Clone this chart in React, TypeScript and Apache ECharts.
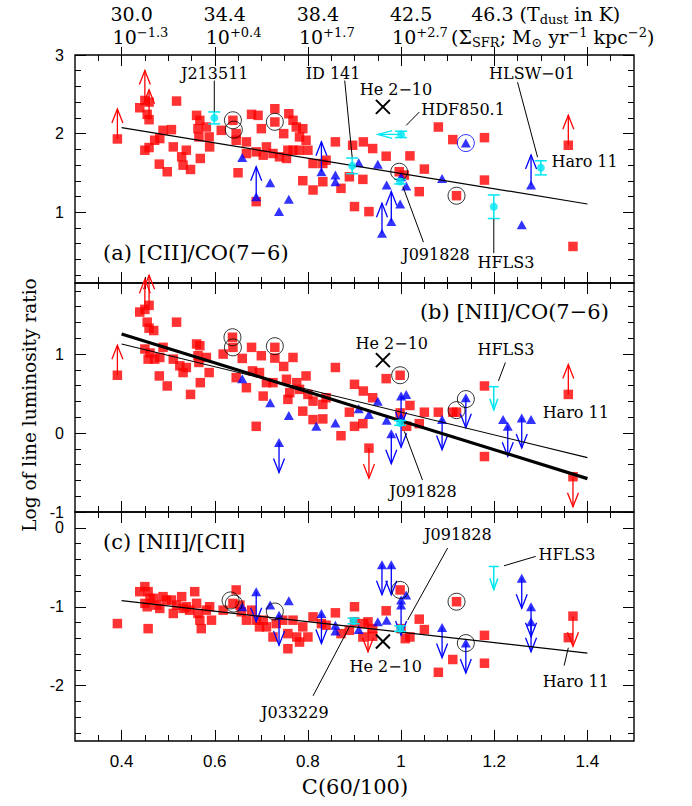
import React, { useEffect, useRef } from 'react';
import * as echarts from 'echarts';

type Pt = [number, number];
type Err = [number, number, number];
type Seg = [number, number, number, number];
type Lab = { text: string; x: number; y: number; align?: string; big?: boolean };

// ---------- axes / tick values ----------
const X_MIN = 0.3;
const X_MAX = 1.5;
const xMajorTicks = [0.4, 0.6, 0.8, 1.0, 1.2, 1.4];
const xMinorTicks = [0.35, 0.45, 0.5, 0.55, 0.65, 0.7, 0.75, 0.85, 0.9, 0.95, 1.05, 1.1, 1.15, 1.25, 1.3, 1.35, 1.45];

const topTicks = [0.4, 0.6, 0.8, 1.0, 1.2];
const tdustLabels = ['30.0', '34.4', '38.4', '42.5', '46.3'];
const sfrExponents = ['−1.3', '+0.4', '+1.7', '+2.7'];

const yMajorA = [1, 2, 3];
const yMinorA = [0.2, 0.4, 0.6, 0.8, 1.2, 1.4, 1.6, 1.8, 2.2, 2.4, 2.6, 2.8];
const yMajorB = [-1, 0, 1];
const yMinorB = [-0.8, -0.6, -0.4, -0.2, 0.2, 0.4, 0.6, 0.8, 1.2, 1.4, 1.6, 1.8];
const yMajorC = [-2, -1, 0];
const yMinorC = [-2.6, -2.4, -2.2, -1.8, -1.6, -1.4, -1.2, -0.8, -0.6, -0.4, -0.2];

// ---------- panel (a) [CII]/CO(7-6) ----------
const redA: Pt[] = [
  [0.391, 1.932], [0.439, 2.329], [0.45, 2.422], [0.459, 2.401], [0.455, 2.245], [0.459, 2.177], [0.45, 1.789],
  [0.459, 1.823], [0.471, 1.916], [0.482, 1.937], [0.489, 2.042], [0.507, 2.051], [0.511, 1.831], [0.518, 2.414],
  [0.481, 1.612], [0.498, 1.515], [0.529, 1.705], [0.532, 1.599], [0.539, 1.789], [0.548, 1.544], [0.561, 2.232],
  [0.568, 2.169], [0.564, 2.063], [0.566, 1.958], [0.582, 2.084], [0.588, 1.958], [0.589, 1.831], [0.569, 1.684],
  [0.614, 2.042], [0.639, 2.169], [0.646, 2.0], [0.646, 1.916], [0.668, 1.895], [0.65, 1.502], [0.668, 1.747],
  [0.679, 2.245], [0.693, 2.232], [0.7, 2.063], [0.689, 1.768], [0.704, 1.726], [0.711, 1.831], [0.689, 1.135],
  [0.729, 2.316], [0.729, 2.148], [0.725, 1.747], [0.739, 1.705], [0.748, 2.0], [0.754, 1.684], [0.759, 2.253],
  [0.768, 2.169], [0.775, 2.084], [0.782, 1.958], [0.789, 2.063], [0.757, 1.789], [0.768, 1.789], [0.781, 1.789],
  [0.796, 1.916], [0.8, 1.789], [0.789, 1.401], [0.811, 1.62], [0.811, 1.283], [0.832, 1.62], [0.839, 1.662],
  [0.832, 1.388], [0.859, 1.895], [0.871, 1.304], [0.889, 1.451], [0.9, 1.072], [0.896, 1.852], [0.919, 1.895],
  [0.918, 1.418], [0.931, 1.008], [0.939, 1.81], [0.968, 1.713], [0.996, 1.515], [1.007, 1.473], [1.019, 1.717],
  [1.05, 1.549], [1.039, 1.262], [1.08, 2.084], [1.111, 1.924], [1.179, 1.949], [1.179, 1.409], [1.119, 1.211],
  [1.359, 1.852], [1.369, 0.565],
];
const blueA: Pt[] = [
  [0.659, 1.696], [0.689, 1.198], [0.719, 1.376], [0.738, 1.008], [0.759, 1.165], [0.829, 1.515], [0.859, 1.473],
  [0.859, 1.388], [0.909, 1.629], [0.95, 1.612], [0.969, 1.346], [1.0, 1.451], [1.011, 1.333], [0.998, 1.105],
  [0.979, 0.882], [0.959, 0.734], [1.088, 1.43], [1.139, 1.882], [1.279, 1.346], [1.259, 0.84],
];
const redUpA: Pt[] = [[0.391, 1.932], [0.45, 2.422], [0.459, 2.177], [1.359, 1.852]];
const blueUpA: Pt[] = [[0.689, 1.198], [0.829, 1.515], [0.979, 0.882], [0.959, 0.734], [1.279, 1.346]];
const cyanErrA: Err[] = [[0.599, 2.2, 0.076], [0.895, 1.59, 0.1], [1.0, 1.99, 0.04], [0.998, 1.39, 0.03], [1.199, 1.07, 0.15], [1.3, 1.565, 0.09]];
const cyanLeftA: Pt[] = [[1.0, 1.99]];
const ringsA: Pt[] = [[0.639, 2.17], [0.641, 2.05], [0.729, 2.15], [0.996, 1.515], [1.119, 1.21]];
const blueRingsA: Pt[] = [[1.139, 1.88]];
const crossA: Pt[] = [[0.961, 2.34]];
const fitA: Pt[] = [[0.4, 2.076], [1.4, 1.105]];
const leadersA: Seg[] = [
  [0.599, 2.675, 0.599, 2.28], [0.879, 2.675, 0.895, 1.7], [1.039, 2.274, 1.011, 2.105],
  [1.25, 2.654, 1.293, 1.7], [1.004, 1.325, 1.048, 0.62], [1.199, 0.916, 1.199, 0.48],
];
const labelsA: Lab[] = [
  { text: 'J213511', x: 0.6, y: 2.77 }, { text: 'ID 141', x: 0.854, y: 2.77 }, { text: 'He 2−10', x: 0.989, y: 2.567 },
  { text: 'HDF850.1', x: 1.133, y: 2.313 }, { text: 'HLSW−01', x: 1.281, y: 2.77 }, { text: 'Haro 11', x: 1.394, y: 1.651 },
  { text: 'J091828', x: 1.075, y: 0.468 }, { text: 'HFLS3', x: 1.225, y: 0.366 },
  { text: '(a) [CII]/CO(7−6)', x: 0.36, y: 0.48, align: 'left', big: true },
];

// ---------- panel (b) [NII]/CO(7-6) ----------
const redB: Pt[] = [
  [0.391, 0.732], [0.439, 1.532], [0.45, 1.566], [0.459, 1.617], [0.455, 1.404], [0.459, 1.328], [0.469, 1.298],
  [0.518, 1.404], [0.45, 1.064], [0.461, 1.013], [0.471, 0.936], [0.482, 0.957], [0.489, 1.085], [0.457, 0.936],
  [0.511, 0.936], [0.525, 0.851], [0.532, 0.766], [0.539, 0.83], [0.481, 0.723], [0.498, 0.596], [0.548, 0.489],
  [0.561, 1.128], [0.568, 1.106], [0.564, 0.979], [0.566, 0.894], [0.582, 0.957], [0.588, 0.766], [0.569, 0.638],
  [0.618, 1.0], [0.638, 1.213], [0.639, 1.085], [0.659, 0.945], [0.646, 0.702], [0.668, 0.574], [0.681, 0.787],
  [0.689, 0.085], [0.696, 0.766], [0.7, 0.979], [0.704, 0.468], [0.711, 0.638], [0.679, 1.085], [0.729, 1.085],
  [0.729, 0.949], [0.725, 0.638], [0.748, 0.843], [0.754, 0.681], [0.761, 0.511], [0.757, 0.426], [0.768, 0.957],
  [0.776, 0.638], [0.782, 0.553], [0.789, 0.277], [0.796, 0.723], [0.8, 0.489], [0.811, 0.404], [0.811, 0.17],
  [0.832, 0.362], [0.832, 0.179], [0.839, 0.447], [0.859, 0.83], [0.871, -0.034], [0.889, 0.264], [0.9, 0.617],
  [0.9, 0.085], [0.919, 0.532], [0.918, 0.119], [0.931, -0.191], [0.939, 0.447], [0.968, 0.689], [0.998, 0.732],
  [0.998, 0.255], [1.012, 0.085], [1.019, 0.349], [1.039, 0.119], [1.05, 0.264], [1.08, 0.264], [1.111, 0.264],
  [1.119, 0.264], [1.179, 0.596], [1.179, -0.298], [1.359, 0.489], [1.369, -0.553],
];
const blueB: Pt[] = [
  [0.659, 0.689], [0.719, 0.383], [0.738, -0.119], [0.759, 0.221], [0.818, 0.085], [0.859, 0.128], [0.909, 0.306],
  [0.931, 0.234], [0.95, 0.404], [0.969, 0.162], [0.979, -0.009], [1.0, 0.468], [1.011, 0.489], [1.0, 0.2],
  [1.088, 0.17], [1.139, 0.447], [1.219, 0.17], [1.229, 0.085], [1.259, 0.191], [1.279, 0.17],
];
const redUpB: Pt[] = [[0.391, 0.732], [0.45, 1.566], [0.459, 1.617], [1.359, 0.489]];
const redDownB: Pt[] = [[0.931, -0.191], [1.369, -0.553]];
const blueDownB: Pt[] = [[0.738, -0.119], [0.979, -0.009], [1.0, 0.468], [1.0, 0.2], [1.088, 0.17], [1.139, 0.447], [1.229, 0.085], [1.259, 0.191]];
const cyanErrB: Err[] = [[0.998, 0.128, 0.03]];
const cyanUlB: Pt[] = [[1.199, 0.587]];
const ringsB: Pt[] = [[0.638, 1.213], [0.639, 1.085], [0.729, 1.1], [0.998, 0.732], [1.119, 0.29], [1.139, 0.43]];
const crossB: Pt[] = [[0.961, 0.923]];
const fitThickB: Pt[] = [[0.4, 1.255], [1.4, -0.577]];
const fitThinB: Pt[] = [[0.4, 1.128], [1.4, -0.311]];
const leadersB: Seg[] = [[1.224, 0.894, 1.209, 0.66], [1.007, 0.021, 1.046, -0.596]];
const labelsB: Lab[] = [
  { text: 'He 2−10', x: 0.98, y: 1.14 }, { text: 'HFLS3', x: 1.225, y: 1.052 }, { text: 'Haro 11', x: 1.375, y: 0.254 },
  { text: 'J091828', x: 1.047, y: -0.746 },
  { text: '(b) [NII]/CO(7−6)', x: 1.446, y: 1.533, align: 'right', big: true },
];

// ---------- panel (c) [NII]/[CII] ----------
const redC: Pt[] = [
  [0.391, -1.213], [0.439, -0.809], [0.45, -0.745], [0.457, -0.809], [0.461, -0.894], [0.45, -0.957], [0.455, -1.0],
  [0.457, -1.277], [0.469, -0.894], [0.475, -0.979], [0.482, -1.021], [0.489, -0.872], [0.496, -0.915], [0.507, -0.915],
  [0.511, -1.085], [0.518, -0.979], [0.529, -0.872], [0.532, -1.021], [0.539, -1.0], [0.546, -1.043], [0.557, -0.809],
  [0.561, -0.957], [0.564, -1.085], [0.568, -1.17], [0.571, -1.277], [0.582, -1.043], [0.589, -1.0], [0.593, -1.17],
  [0.618, -1.043], [0.639, -0.957], [0.646, -0.787], [0.654, -0.979], [0.657, -1.064], [0.668, -1.17], [0.679, -1.043],
  [0.689, -1.17], [0.696, -1.255], [0.704, -1.17], [0.711, -1.255], [0.725, -1.383], [0.732, -1.213], [0.746, -1.17],
  [0.757, -1.34], [0.757, -1.532], [0.768, -1.17], [0.776, -1.383], [0.782, -1.447], [0.789, -1.255], [0.8, -1.383],
  [0.811, -1.128], [0.829, -1.213], [0.839, -1.234], [0.859, -1.077], [0.871, -1.34], [0.889, -1.298], [0.9, -1.0],
  [0.9, -1.191], [0.919, -1.213], [0.918, -1.383], [0.929, -1.191], [0.939, -1.277], [0.939, -1.374], [0.968, -1.051],
  [0.998, -0.787], [1.0, -1.277], [1.009, -1.404], [1.019, -1.383], [1.039, -1.157], [1.05, -1.289], [1.08, -1.83],
  [1.111, -1.668], [1.119, -0.936], [1.179, -1.362], [1.179, -1.715], [1.359, -1.391], [1.369, -1.119],
];
const blueC: Pt[] = [
  [0.659, -1.0], [0.689, -0.809], [0.719, -0.979], [0.738, -1.106], [0.759, -0.923], [0.829, -1.085], [0.859, -1.234],
  [0.859, -1.306], [0.909, -1.289], [0.95, -1.191], [0.969, -1.17], [0.959, -0.468], [0.979, -0.468], [1.0, -0.979],
  [1.011, -0.851], [1.0, -0.915], [1.088, -1.264], [1.139, -1.46], [1.259, -0.638], [1.279, -1.0], [1.279, -1.191],
];
const redDownC: Pt[] = [[0.929, -1.191], [1.369, -1.119]];
const blueDownC: Pt[] = [
  [0.689, -0.809], [0.738, -1.106], [0.829, -1.085], [0.959, -0.468], [0.979, -0.468], [1.0, -0.979], [1.088, -1.264],
  [1.139, -1.46], [1.259, -0.638], [1.279, -1.0], [1.279, -1.191],
];
const cyanErrC: Err[] = [[0.898, -1.18, 0.035], [0.998, -1.277, 0.035]];
const cyanUlC: Pt[] = [[1.199, -0.49]];
const ringsC: Pt[] = [[0.634, -0.92], [0.641, -0.96], [0.729, -1.06], [0.998, -0.787], [1.119, -0.936], [1.139, -1.46]];
const crossC: Pt[] = [[0.961, -1.44]];
const fitC: Pt[] = [[0.4, -0.923], [1.4, -1.587]];
const leadersC: Seg[] = [[1.1, -0.255, 1.014, -1.17], [1.289, -0.362, 1.221, -0.481], [1.35, -1.745, 1.359, -1.519], [0.811, -2.128, 0.889, -1.255]];
const labelsC: Lab[] = [
  { text: 'J091828', x: 1.122, y: -0.091 }, { text: 'HFLS3', x: 1.356, y: -0.344 }, { text: 'He 2−10', x: 0.967, y: -1.762 },
  { text: 'Haro 11', x: 1.375, y: -1.952 }, { text: 'J033229', x: 0.772, y: -2.344 },
  { text: '(c) [NII]/[CII]', x: 0.36, y: -0.18, align: 'left', big: true },
];

const RED = '#ff0000';
const BLUE = '#0000ff';
const CYAN = '#00e6f2';
const SERIF = '"DejaVu Serif", serif';
const SANS = '"Liberation Sans", Arial, sans-serif';

const panels = [
  {
    top: 55, height: 228, yMin: 0.1, yMax: 3.0, yMajor: yMajorA, yMinor: yMinorA,
    red: redA, blue: blueA, redUp: redUpA, redDown: [] as Pt[], blueUp: blueUpA, blueDown: [] as Pt[],
    cyanErr: cyanErrA, cyanLeft: cyanLeftA, cyanUl: [] as Pt[], rings: ringsA, blueRings: blueRingsA, cross: crossA,
    fits: [{ data: fitA, width: 1.2 }], leaders: leadersA, labels: labelsA,
  },
  {
    top: 283, height: 229, yMin: -1.0, yMax: 1.9, yMajor: yMajorB, yMinor: yMinorB,
    red: redB, blue: blueB, redUp: redUpB, redDown: redDownB, blueUp: [] as Pt[], blueDown: blueDownB,
    cyanErr: cyanErrB, cyanLeft: [] as Pt[], cyanUl: cyanUlB, rings: ringsB, blueRings: [] as Pt[], cross: crossB,
    fits: [{ data: fitThickB, width: 3.2 }, { data: fitThinB, width: 1.1 }], leaders: leadersB, labels: labelsB,
  },
  {
    top: 512, height: 229, yMin: -2.7, yMax: 0.2, yMajor: yMajorC, yMinor: yMinorC,
    red: redC, blue: blueC, redUp: [] as Pt[], redDown: redDownC, blueUp: [] as Pt[], blueDown: blueDownC,
    cyanErr: cyanErrC, cyanLeft: [] as Pt[], cyanUl: cyanUlC, rings: ringsC, blueRings: [] as Pt[], cross: crossC,
    fits: [{ data: fitC, width: 1.2 }], leaders: leadersC, labels: labelsC,
  },
];

function xAxisDef(g: number, position: string, ticks: number[], len: number, inside: boolean, labels: number[] | null) {
  return {
    type: 'value', gridIndex: g, position, min: X_MIN, max: X_MAX,
    axisLine: { show: false, onZero: false }, splitLine: { show: false },
    axisTick: { show: true, inside, length: len, customValues: ticks, lineStyle: { color: '#000', width: 1 } },
    axisLabel: labels
      ? { show: true, customValues: labels, margin: 12, color: '#000', fontFamily: SANS, fontSize: 17 }
      : { show: false },
  };
}

function yAxisDef(g: number, p: any, position: string, ticks: number[], len: number, labels: number[] | null) {
  return {
    type: 'value', gridIndex: g, position, min: p.yMin, max: p.yMax,
    axisLine: { show: false, onZero: false }, splitLine: { show: false },
    axisTick: { show: true, inside: true, length: len, customValues: ticks, lineStyle: { color: '#000', width: 1 } },
    axisLabel: labels
      ? { show: true, customValues: labels, margin: 11, color: '#000', fontFamily: SANS, fontSize: 16 }
      : { show: false },
  };
}

function arrowSeries(g: number, data: Pt[], dir: string, color: string, len: number) {
  return {
    type: 'custom', xAxisIndex: 4 * g, yAxisIndex: 4 * g, data, clip: false, silent: true, z: 4,
    renderItem: (_p: any, api: any) => {
      const c = api.coord([api.value(0), api.value(1)]);
      const x0 = c[0], y0 = c[1];
      const hw = 5.5, hl = 14;
      let x1 = x0, y1 = y0;
      let pts: number[][];
      if (dir === 'up') { y1 = y0 - len; pts = [[x1 - hw, y1 + hl], [x1, y1], [x1 + hw, y1 + hl]]; }
      else if (dir === 'down') { y1 = y0 + len; pts = [[x1 - hw, y1 - hl], [x1, y1], [x1 + hw, y1 - hl]]; }
      else { x1 = x0 - len; pts = [[x1 + hl, y1 - hw * 0.7], [x1, y1], [x1 + hl, y1 + hw * 0.7]]; }
      return {
        type: 'group', children: [
          { type: 'line', shape: { x1: x0, y1: y0, x2: x1, y2: y1 }, style: { stroke: color, lineWidth: 1.3 } },
          { type: 'polyline', shape: { points: pts }, style: { stroke: color, fill: 'none', lineWidth: 1.3 } },
        ],
      };
    },
  };
}

function errSeries(g: number, data: Err[]) {
  return {
    type: 'custom', xAxisIndex: 4 * g, yAxisIndex: 4 * g, data, clip: false, silent: true, z: 6,
    renderItem: (_p: any, api: any) => {
      const x = api.value(0), y = api.value(1), e = api.value(2);
      const lo = api.coord([x, y - e]);
      const hi = api.coord([x, y + e]);
      const st = { stroke: CYAN, lineWidth: 1.5 };
      return {
        type: 'group', children: [
          { type: 'line', shape: { x1: lo[0], y1: lo[1], x2: hi[0], y2: hi[1] }, style: st },
          { type: 'line', shape: { x1: lo[0] - 6, y1: lo[1], x2: lo[0] + 6, y2: lo[1] }, style: st },
          { type: 'line', shape: { x1: hi[0] - 6, y1: hi[1], x2: hi[0] + 6, y2: hi[1] }, style: st },
        ],
      };
    },
  };
}

function ulSeries(g: number, data: Pt[]) {
  return {
    type: 'custom', xAxisIndex: 4 * g, yAxisIndex: 4 * g, data, clip: false, silent: true, z: 6,
    renderItem: (_p: any, api: any) => {
      const c = api.coord([api.value(0), api.value(1)]);
      const st = { stroke: CYAN, lineWidth: 1.5, fill: 'none' };
      const tip = c[1] + 23;
      return {
        type: 'group', children: [
          { type: 'line', shape: { x1: c[0] - 5, y1: c[1], x2: c[0] + 5, y2: c[1] }, style: st },
          { type: 'line', shape: { x1: c[0], y1: c[1], x2: c[0], y2: tip }, style: st },
          { type: 'polyline', shape: { points: [[c[0] - 4, tip - 11], [c[0], tip], [c[0] + 4, tip - 11]] }, style: st },
        ],
      };
    },
  };
}

function crossSeries(g: number, data: Pt[]) {
  return {
    type: 'custom', xAxisIndex: 4 * g, yAxisIndex: 4 * g, data, clip: false, silent: true, z: 6,
    renderItem: (_p: any, api: any) => {
      const c = api.coord([api.value(0), api.value(1)]);
      const s = 7;
      const st = { stroke: '#000', lineWidth: 2 };
      return {
        type: 'group', children: [
          { type: 'line', shape: { x1: c[0] - s, y1: c[1] - s, x2: c[0] + s, y2: c[1] + s }, style: st },
          { type: 'line', shape: { x1: c[0] - s, y1: c[1] + s, x2: c[0] + s, y2: c[1] - s }, style: st },
        ],
      };
    },
  };
}

function leaderSeries(g: number, data: Seg[]) {
  return {
    type: 'custom', xAxisIndex: 4 * g, yAxisIndex: 4 * g, data, clip: false, silent: true, z: 8,
    renderItem: (_p: any, api: any) => {
      const a = api.coord([api.value(0), api.value(1)]);
      const b = api.coord([api.value(2), api.value(3)]);
      return { type: 'line', shape: { x1: a[0], y1: a[1], x2: b[0], y2: b[1] }, style: { stroke: '#000', lineWidth: 1 } };
    },
  };
}

function labelSeries(g: number, labels: Lab[]) {
  return {
    type: 'custom', xAxisIndex: 4 * g, yAxisIndex: 4 * g, data: labels.map((l) => [l.x, l.y]), clip: false, silent: true, z: 10,
    renderItem: (params: any, api: any) => {
      const l = labels[params.dataIndex];
      const c = api.coord([api.value(0), api.value(1)]);
      return {
        type: 'text', x: c[0], y: c[1],
        style: {
          text: l.text, fill: '#000', fontFamily: SERIF, fontSize: l.big ? 21 : 16,
          align: l.align || 'center', verticalAlign: 'middle',
        },
      };
    },
  };
}

function buildOption() {
  const grid = panels.map((p) => ({
    left: 75, width: 559, top: p.top, height: p.height, show: true,
    borderColor: '#000', borderWidth: 1.4, backgroundColor: 'transparent', containLabel: false,
  }));
  const xAxis: any[] = [];
  const yAxis: any[] = [];
  panels.forEach((p, g) => {
    xAxis.push(xAxisDef(g, 'bottom', xMajorTicks, 11, true, g === 2 ? xMajorTicks : null));
    xAxis.push(xAxisDef(g, 'bottom', xMinorTicks, 6, true, null));
    xAxis.push(xAxisDef(g, 'top', xMajorTicks, 11, true, null));
    xAxis.push(xAxisDef(g, 'top', xMinorTicks, 6, true, null));
    yAxis.push(yAxisDef(g, p, 'left', p.yMajor, 11, p.yMajor));
    yAxis.push(yAxisDef(g, p, 'left', p.yMinor, 6, null));
    yAxis.push(yAxisDef(g, p, 'right', p.yMajor, 11, null));
    yAxis.push(yAxisDef(g, p, 'right', p.yMinor, 6, null));
  });
  xAxis.push(xAxisDef(0, 'top', xMajorTicks, 8, false, null));

  const series: any[] = [];
  panels.forEach((p, g) => {
    const ax = { xAxisIndex: 4 * g, yAxisIndex: 4 * g };
    series.push({ type: 'scatter', ...ax, data: p.red, symbol: 'rect', symbolSize: 9.5, itemStyle: { color: RED }, z: 3, silent: true });
    series.push({ type: 'scatter', ...ax, data: p.blue, symbol: 'triangle', symbolSize: [10, 9], itemStyle: { color: BLUE }, z: 3, silent: true });
    if (p.redUp.length) series.push(arrowSeries(g, p.redUp, 'up', RED, 30));
    if (p.redDown.length) series.push(arrowSeries(g, p.redDown, 'down', RED, 30));
    if (p.blueUp.length) series.push(arrowSeries(g, p.blueUp, 'up', BLUE, 30));
    if (p.blueDown.length) series.push(arrowSeries(g, p.blueDown, 'down', BLUE, 30));
    if (p.cyanLeft.length) series.push(arrowSeries(g, p.cyanLeft, 'left', CYAN, 23));
    p.fits.forEach((f) => series.push({
      type: 'line', ...ax, data: f.data, symbol: 'none', showSymbol: false,
      lineStyle: { color: '#000', width: f.width }, z: 5, silent: true,
    }));
    series.push({
      type: 'scatter', ...ax, data: p.rings, symbol: 'circle', symbolSize: 17,
      itemStyle: { color: 'rgba(0,0,0,0)', borderColor: '#000', borderWidth: 1 }, z: 6, silent: true,
    });
    if (p.blueRings.length) series.push({
      type: 'scatter', ...ax, data: p.blueRings, symbol: 'circle', symbolSize: 17,
      itemStyle: { color: 'rgba(0,0,0,0)', borderColor: BLUE, borderWidth: 1 }, z: 6, silent: true,
    });
    series.push(errSeries(g, p.cyanErr));
    series.push({
      type: 'scatter', ...ax, data: p.cyanErr.map((e) => [e[0], e[1]]), symbol: 'circle', symbolSize: 8,
      itemStyle: { color: CYAN }, z: 7, silent: true,
    });
    if (p.cyanUl.length) series.push(ulSeries(g, p.cyanUl));
    series.push(crossSeries(g, p.cross));
    series.push(leaderSeries(g, p.leaders));
    series.push(labelSeries(g, p.labels));
  });

  return { animation: false, grid, xAxis, yAxis, series };
}

function buildGraphics(px: (v: number) => number) {
  const base = { fill: '#000', fontFamily: SERIF, fontSize: 19, lineHeight: 23, verticalAlign: 'middle' };
  const rich = {
    sup: { fontFamily: SERIF, fontSize: 13, lineHeight: 13, verticalAlign: 'top', fill: '#000' },
    sub: { fontFamily: SERIF, fontSize: 13, lineHeight: 13, verticalAlign: 'bottom', fill: '#000' },
  };
  const g: any[] = [];
  tdustLabels.forEach((t, i) => {
    const last = i === tdustLabels.length - 1;
    g.push({
      type: 'text', x: last ? px(topTicks[i]) - 23 : px(topTicks[i]) + 10, y: 14, silent: true,
      style: { ...base, text: last ? t + ' (T{sub|dust} in K)' : t, align: last ? 'left' : 'center', rich },
    });
  });
  sfrExponents.forEach((e, i) => {
    g.push({
      type: 'text', x: px(topTicks[i]) - 9, y: 37, silent: true,
      style: { ...base, text: '10{sup|' + e + '}', align: 'left', rich },
    });
  });
  g.push({
    type: 'text', x: px(topTicks[3]) + 50, y: 37, silent: true,
    style: { ...base, text: '(Σ{sub|SFR}; M{sub|⊙} yr{sup|−1} kpc{sup|−2})', align: 'left', rich },
  });
  g.push({
    type: 'text', x: 29, y: 405, rotation: Math.PI / 2, silent: true,
    style: { fill: '#000', fontFamily: SERIF, fontSize: 18.5, text: 'Log of line luminosity ratio', align: 'center', verticalAlign: 'middle' },
  });
  g.push({
    type: 'text', x: 355, y: 787, silent: true,
    style: { fill: '#000', fontFamily: SERIF, fontSize: 21, text: 'C(60/100)', align: 'center', verticalAlign: 'middle' },
  });
  return g;
}

export default function App() {
  const ref = useRef<HTMLDivElement>(null);
  useEffect(() => {
    if (!ref.current) return;
    const chart = echarts.init(ref.current, null, { renderer: 'svg' });
    chart.setOption(buildOption() as any);
    const px = (v: number) => chart.convertToPixel({ xAxisIndex: 0 }, v) as unknown as number;
    chart.setOption({ graphic: buildGraphics(px) } as any);
    return () => chart.dispose();
  }, []);
  return <div ref={ref} style={{ position: 'absolute', left: 0, top: 0, width: 692, height: 806, background: '#fff' }} />;
}
